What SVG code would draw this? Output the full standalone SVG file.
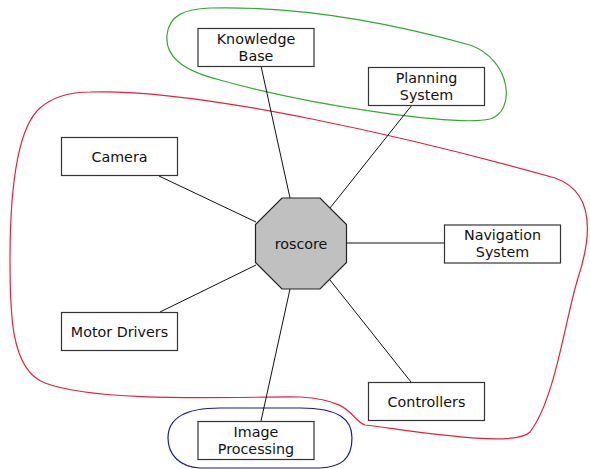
<svg xmlns="http://www.w3.org/2000/svg" width="590" height="469" viewBox="0 0 590 469">
<style>
.n rect{fill:#fff;stroke:#333;stroke-width:1.2}
.t{font-family:"DejaVu Sans",sans-serif;font-size:14.3px;fill:#111;text-anchor:middle}
.c line{stroke:#111;stroke-width:1}
.g{fill:none;stroke-width:1.2}
</style>
<rect width="590" height="469" fill="#fff"/>
<g id="groups">
<path class="g" stroke="#33a833" d="M 210,8 C 290,6 380,20 470,45 C 512,60 516,112 490,119 C 460,126 320,108 220,80 C 180,70 165,55 167,35 C 169,15 185,9 210,8 Z"/>
<path class="g" stroke="#e5213d" d="M 90,92 C 200,88 420,140 555,178 C 595,192 592,235 578,278 C 565,320 555,400 530,432 C 515,448 420,432 365,425 C 350,420 355,400 300,397 C 250,396 100,404 45,383 C 10,370 10,310 10,260 C 10,200 15,130 40,108 C 55,95 75,92 90,92 Z"/>
<path class="g" stroke="#1a1a9a" d="M 220,408 L 300,408 C 340,408 352,420 352,438 C 352,460 340,467 320,468 L 200,468 C 180,467 168,455 168,438 C 168,418 185,408 220,408 Z"/>
</g>
<g id="connectors" class="c">
<line x1="261" y1="66" x2="290" y2="198"/>
<line x1="412" y1="105" x2="330" y2="208"/>
<line x1="159" y1="176" x2="256" y2="222"/>
<line x1="160" y1="312" x2="256" y2="265"/>
<line x1="347" y1="243" x2="444" y2="243"/>
<line x1="330" y1="280" x2="411" y2="382"/>
<line x1="290" y1="289" x2="261" y2="421"/>
</g>
<g id="roscore">
<polygon points="282,198 320,198 346.5,224.5 346.5,262.5 320,289 282,289 255.5,262.5 255.5,224.5" fill="#c0c0c0" stroke="#222" stroke-width="1.2"/>
<text class="t" x="301" y="249">roscore</text>
</g>
<g id="knowledge-base" class="n">
<rect x="198" y="28.5" width="116" height="38"/>
<text class="t" x="256" y="44">Knowledge</text>
<text class="t" x="256" y="61">Base</text>
</g>
<g id="planning-system" class="n">
<rect x="368.5" y="67.5" width="116" height="38"/>
<text class="t" x="426.5" y="83">Planning</text>
<text class="t" x="426.5" y="100">System</text>
</g>
<g id="camera" class="n">
<rect x="61.5" y="137.5" width="116" height="38"/>
<text class="t" x="119.5" y="161.5">Camera</text>
</g>
<g id="navigation-system" class="n">
<rect x="444.5" y="225" width="116" height="38"/>
<text class="t" x="502.5" y="240">Navigation</text>
<text class="t" x="502.5" y="257">System</text>
</g>
<g id="motor-drivers" class="n">
<rect x="61.5" y="312.5" width="116" height="38"/>
<text class="t" x="119.5" y="336.5">Motor Drivers</text>
</g>
<g id="controllers" class="n">
<rect x="368.5" y="382.5" width="116" height="38"/>
<text class="t" x="426.5" y="406.5">Controllers</text>
</g>
<g id="image-processing" class="n">
<rect x="198" y="421.5" width="116" height="38"/>
<text class="t" x="256" y="437">Image</text>
<text class="t" x="256" y="454">Processing</text>
</g>
</svg>
